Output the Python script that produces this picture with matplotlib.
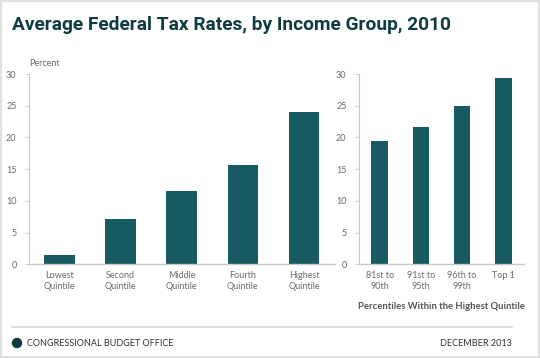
import matplotlib
matplotlib.use('Agg')
import matplotlib.pyplot as plt
from matplotlib.patches import Ellipse, Rectangle

# data
quint_labels = ['Lowest\nQuintile', 'Second\nQuintile', 'Middle\nQuintile',
                'Fourth\nQuintile', 'Highest\nQuintile']
quint_rates = [1.5, 7.2, 11.5, 15.6, 24.0]

top_labels = ['81st to\n90th', '91st to\n95th', '96th to\n99th', 'Top 1']
top_rates = [19.4, 21.6, 24.9, 29.4]

yticks = [0, 5, 10, 15, 20, 25, 30]

bar_c = '#185a62'
title_c = '#0f3c42'
grey = '#6b6b6b'
spine_c = '#c8c8c8'

plt.rcParams['font.family'] = ['Lato', 'DejaVu Sans']

fig = plt.figure(figsize=(5.4, 3.58), dpi=100)
W, H = 540, 358

def style(ax):
    ax.set_ylim(0, 30)
    ax.set_yticks(yticks)
    for s in ['top', 'right']:
        ax.spines[s].set_visible(False)
    ax.spines['left'].set_color(spine_c)
    ax.spines['bottom'].set_color(spine_c)
    ax.spines['left'].set_linewidth(0.8)
    ax.spines['bottom'].set_linewidth(1.0)
    ax.tick_params(axis='y', length=3, width=0.6, color=spine_c,
                   labelsize=6.5, labelcolor=grey, pad=6)
    ax.tick_params(axis='x', length=0, labelsize=6.5, labelcolor=grey, pad=5)

# left panel
ax1 = fig.add_axes([29 / W, 1 - 264.3 / H, (334.5 - 29) / W, 190.3 / H])
ax1.bar(range(len(quint_rates)), quint_rates, width=0.5, color=bar_c)
ax1.set_xlim(-0.5, len(quint_rates) - 0.5)
ax1.set_xticks(range(len(quint_labels)))
ax1.set_xticklabels(quint_labels)
style(ax1)

# right panel
ax2 = fig.add_axes([359 / W, 1 - 264.3 / H, (524 - 359) / W, 190.3 / H])
ax2.bar(range(len(top_rates)), top_rates, width=0.4, color=bar_c)
ax2.set_xlim(-0.5, len(top_rates) - 0.5)
ax2.set_xticks(range(len(top_labels)))
ax2.set_xticklabels(top_labels)
style(ax2)
ax2.set_xlabel('Percentiles Within the Highest Quintile', fontsize=6.8,
               color='#555555', fontweight='bold', labelpad=8)

fig.text(29 / W, 1 - 64 / H, 'Percent', fontsize=6.5, color=grey,
         ha='left', va='center')

# title
fig.text(12 / W, 1 - 25 / H, 'Average Federal Tax Rates, by Income Group, 2010',
         fontsize=13.8, fontweight='bold', color=title_c, ha='left',
         va='center', family=['Roboto', 'DejaVu Sans'])

# footer
fig.add_artist(plt.Line2D([12 / W, 512 / W], [1 - 327 / H, 1 - 327 / H],
                          color='#d8d8d8', lw=1.2))
fig.add_artist(Ellipse((17 / W, 1 - 343 / H), 9 / W, 9 / H, color=title_c,
                       transform=fig.transFigure))
fig.text(27 / W, 1 - 343 / H, 'CONGRESSIONAL BUDGET OFFICE', fontsize=6.5,
         color='#333333', ha='left', va='center')
fig.text(512 / W, 1 - 343 / H, 'DECEMBER 2013', fontsize=6.5,
         color='#333333', ha='right', va='center')

# light grey frame
fig.add_artist(Rectangle((0, 0), 1, 1, transform=fig.transFigure, fill=False,
                         ec='#e0e0e0', lw=3))

fig.savefig('out.png', dpi=100, facecolor='white')
